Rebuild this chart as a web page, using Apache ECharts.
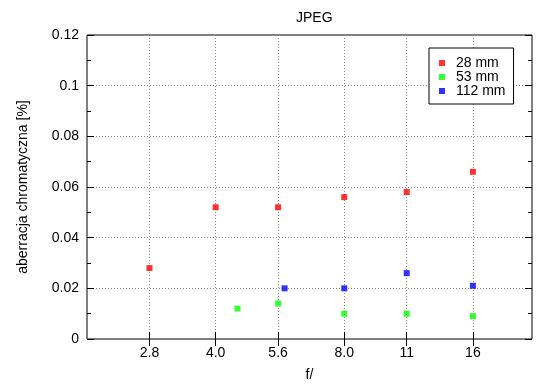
<!DOCTYPE html>
<html>
<head>
<meta charset="utf-8">
<script src="https://cdn.jsdelivr.net/npm/echarts@6/dist/echarts.min.js"></script>
<style>
html,body{margin:0;padding:0;background:#fff;}
#c{width:550px;height:389px;}
</style>
</head>
<body>
<div id="c"></div>
<script>
// Data
var fTicks = [2.8, 4, 5.6, 8, 11.2, 16];
var fTickLabels = ['2.8', '4.0', '5.6', '8.0', '11', '16'];
var yTickLabels = ['0', '0.02', '0.04', '0.06', '0.08', '0.1', '0.12'];

var f28 = [2.8, 4, 5.6, 8, 11.2, 16];
var v28 = [0.028, 0.052, 0.052, 0.056, 0.058, 0.066];

var f53 = [4.5, 5.6, 8, 11.2, 16];
var v53 = [0.012, 0.014, 0.010, 0.010, 0.009];

var f112 = [5.8, 8, 11.2, 16];
var v112 = [0.020, 0.020, 0.026, 0.021];

function pairs(xs, ys) { return xs.map(function (x, i) { return [x, ys[i]]; }); }

var FONT = 'Liberation Sans';
var FS = 14;
var chart = echarts.init(document.getElementById('c'), null, { renderer: 'canvas' });

function fLabel(v) {
  var best = 0, d = Infinity;
  for (var i = 0; i < fTicks.length; i++) {
    var dd = Math.abs(fTicks[i] - v);
    if (dd < d) { d = dd; best = i; }
  }
  return d < 0.05 ? fTickLabels[best] : '';
}

var grid = { left: 87, right: 18, top: 35, bottom: 50, show: true, borderColor: '#000', borderWidth: 1, backgroundColor: 'transparent' };

var xBase = {
  type: 'log', logBase: 2, min: 2, max: 22,
  axisLine: { show: false },
  axisTick: { show: true, inside: true, length: 7, customValues: fTicks, lineStyle: { color: '#000' } },
  minorTick: { show: false },
  minorSplitLine: { show: false }
};

var option = {
  animation: false,
  backgroundColor: '#fff',
  title: {
    text: 'JPEG', left: 291, top: 6,
    textStyle: { fontFamily: FONT, fontSize: FS, fontWeight: 'normal', color: '#000' }
  },
  legend: {
    orient: 'vertical', left: 429, top: 48,
    padding: [8, 8, 6, 10], itemGap: 0,
    backgroundColor: '#fff',
    borderColor: '#000', borderWidth: 1, borderRadius: 0,
    itemWidth: 6, itemHeight: 6, icon: 'rect',
    textStyle: { fontFamily: FONT, fontSize: FS, color: '#000', lineHeight: 14, padding: [0, 0, 0, 6] },
    data: ['28 mm', '53 mm', '112 mm']
  },
  grid: grid,
  xAxis: [
    Object.assign({}, xBase, {
      position: 'bottom',
      name: 'f/', nameLocation: 'middle', nameGap: 29,
      nameTextStyle: { fontFamily: FONT, fontSize: FS, color: '#000' },
      axisLabel: { show: true, customValues: fTicks, formatter: fLabel, margin: 7, fontFamily: FONT, fontSize: FS, color: '#000' },
      splitLine: { show: true, customValues: fTicks, lineStyle: { color: '#888', type: [1, 2], width: 1 } }
    }),
    Object.assign({}, xBase, {
      position: 'top',
      axisLabel: { show: false },
      splitLine: { show: false }
    })
  ],
  yAxis: [
    {
      type: 'value', min: 0, max: 0.12, interval: 0.02, position: 'left',
      name: 'aberracja chromatyczna [%]', nameLocation: 'middle', nameGap: 57,
      nameTextStyle: { fontFamily: FONT, fontSize: FS, color: '#000' },
      axisLine: { show: false },
      axisTick: { show: true, inside: true, length: 7, lineStyle: { color: '#000' } },
      minorTick: { show: true, splitNumber: 2, length: 4, lineStyle: { color: '#000' } },
      axisLabel: {
        margin: 8, fontFamily: FONT, fontSize: FS, color: '#000',
        formatter: function (v) { return yTickLabels[Math.round(v / 0.02)]; }
      },
      splitLine: { show: true, lineStyle: { color: '#888', type: [1, 2], width: 1 } }
    },
    {
      type: 'value', min: 0, max: 0.12, interval: 0.02, position: 'right',
      axisLine: { show: false },
      axisTick: { show: true, inside: true, length: 7, lineStyle: { color: '#000' } },
      minorTick: { show: true, splitNumber: 2, length: 4, lineStyle: { color: '#000' } },
      axisLabel: { show: false },
      splitLine: { show: false }
    }
  ],
  series: [
    { name: '28 mm', type: 'scatter', symbol: 'rect', symbolSize: 6, itemStyle: { color: '#ff0000' }, data: pairs(f28, v28) },
    { name: '53 mm', type: 'scatter', symbol: 'rect', symbolSize: 6, itemStyle: { color: '#00ff00' }, data: pairs(f53, v53) },
    { name: '112 mm', type: 'scatter', symbol: 'rect', symbolSize: 6, itemStyle: { color: '#0000ff' }, data: pairs(f112, v112) }
  ]
};
chart.setOption(option);
</script>
</body>
</html>
